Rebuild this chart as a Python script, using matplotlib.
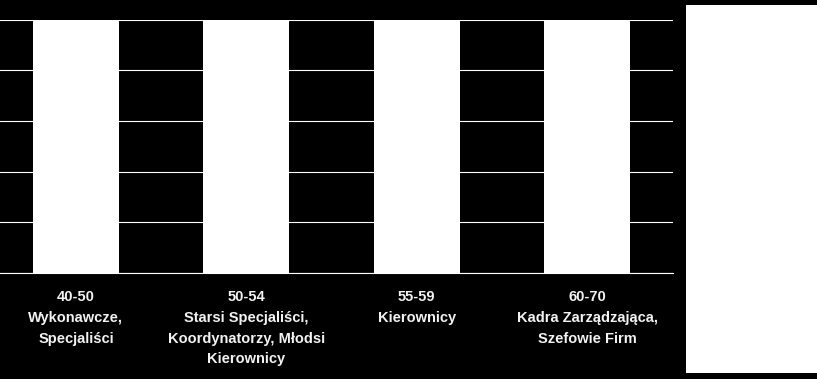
import matplotlib
matplotlib.use("Agg")
import matplotlib.pyplot as plt
from matplotlib.patches import Rectangle

# ── data ─────────────────────────────────────────────
CATEGORIES = [
    "40-50\nWykonawcze,\nSpecjaliści",
    "50-54\nStarsi Specjaliści,\nKoordynatorzy, Młodsi\nKierownicy",
    "55-59\nKierownicy",
    "60-70\nKadra Zarządzająca,\nSzefowie Firm",
]
VALUES = [100, 100, 100, 100]
Y_TICKS = [0, 20, 40, 60, 80, 100]

W, H = 817, 379
fig = plt.figure(figsize=(W / 100, H / 100), dpi=100, facecolor="black")

# axes runs slightly off the left edge, like the original
left, right = -9.25 / W, 672.5 / W
bottom, top = 1 - 273 / H, 1 - 19.5 / H
ax = fig.add_axes([left, bottom, right - left, top - bottom])
ax.set_facecolor("black")

x = range(len(CATEGORIES))
ax.bar(x, VALUES, width=0.505, color="white", zorder=3)

ax.set_xlim(-0.5, len(CATEGORIES) - 0.5)
ax.set_ylim(0, 100)
ax.set_yticks(Y_TICKS)
ax.yaxis.grid(True, color="white", linewidth=0.8, zorder=0)
ax.tick_params(axis="y", left=False, labelleft=False)

ax.set_xticks(list(x))
ax.set_xticklabels(CATEGORIES, color="#f2f2f2", fontsize=10.5,
                   fontweight="bold", family="Liberation Sans",
                   linespacing=1.6)
ax.tick_params(axis="x", length=0, pad=12.5)

for side in ["top", "right", "left"]:
    ax.spines[side].set_visible(False)
ax.spines["bottom"].set_color("white")
ax.spines["bottom"].set_linewidth(0.8)

# empty white legend panel on the right
fig.patches.append(Rectangle((686 / W, 1 - 372.5 / H), (817 - 686) / W,
                             (372.5 - 5) / H, transform=fig.transFigure,
                             facecolor="white", edgecolor="none"))

fig.savefig("out.png", dpi=100, facecolor="black")
